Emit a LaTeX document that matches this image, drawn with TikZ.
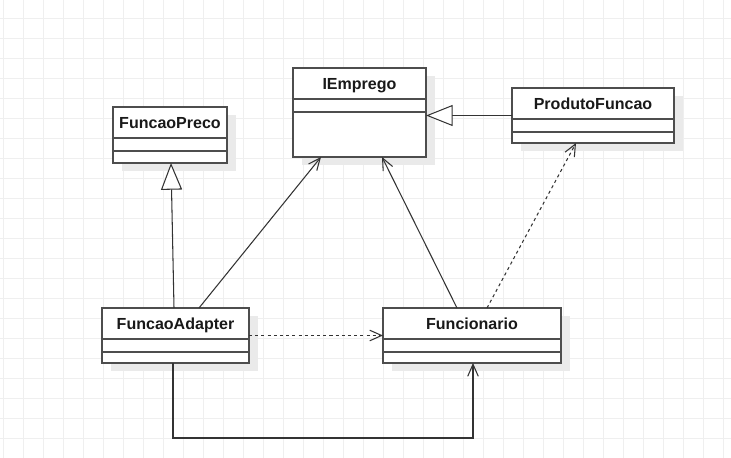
\documentclass[tikz,border=0pt]{standalone}
\usepackage{fontspec}
\setmainfont{Liberation Sans}
\usepackage{xcolor}
\usetikzlibrary{arrows.meta}
\usetikzlibrary{calc}

\definecolor{gridgray}{HTML}{EFEFEF}
\definecolor{shadowgray}{HTML}{EAEAEA}
\definecolor{boxline}{HTML}{4D4D4D}
\definecolor{linkline}{HTML}{333333}

\def\px{0.025cm}

% class box: name, x, y, width, height, title
\newcommand{\umlclass}[6]{%
  \fill[shadowgray] ({#2+9},{#3+8}) rectangle ({#2+#4+9},{#3+#5+8});
  \node[classbox, minimum width=#4*\px, minimum height=#5*\px] (#1) at (#2,#3) {};
  \draw[classsep] ($(#1.north west)+(0,31)$) -- ($(#1.north east)+(0,31)$);
  \draw[classsep] ($(#1.north west)+(0,44)$) -- ($(#1.north east)+(0,44)$);
  \node[classname] (#1-title) at ($(#1.north)+(0,21.5)$) {#6};
}

\tikzset{
  classbox/.style={draw=boxline, fill=white, line width=1pt, inner sep=0pt,
    outer sep=0pt, anchor=north west},
  classsep/.style={draw=boxline, line width=1pt},
  classname/.style={anchor=base, inner sep=0pt, text=black!90,
    font=\fontsize{11.4}{13}\selectfont\bfseries},
  link/.style={draw=linkline, line width=0.75pt},
  assoc/.style={link, -{Straight Barb[length=8.5pt,width=7.5pt]}},
  depend/.style={assoc, dash pattern=on 2.2pt off 2.2pt},
  realize/.style={link, -{Triangle[length=19pt,width=15pt,fill=white]}}
}

\begin{document}
\begin{tikzpicture}[x=0.025cm, y=-0.025cm]
  \useasboundingbox (0,0) rectangle (731,458);
  \fill[white] (0,0) rectangle (731,458);
  % grid
  \foreach \gx in {3,23,...,723}
    \draw[gridgray, line width=0.7pt] (\gx,0) -- (\gx,458);
  \foreach \gy in {18,38,...,458}
    \draw[gridgray, line width=0.7pt] (0,\gy) -- (731,\gy);

  % classes
  \umlclass{iemp}{293}{68}{133}{89}{IEmprego}
  \umlclass{prod}{512}{88}{162}{55}{ProdutoFuncao}
  \umlclass{fpreco}{113}{107}{114}{56}{FuncaoPreco}
  \umlclass{fadp}{102}{308}{147}{55}{FuncaoAdapter}
  \umlclass{func}{383}{308}{178}{55}{Funcionario}

  % connectors
  \draw[realize] (prod.west) -- (prod.west -| iemp.east);
  \draw[realize] ($(fadp.north west)+(72,0)$) -- ($(fpreco.south west)+(58,0)$);
  \draw[assoc] ($(fadp.north west)+(97,0)$) -- ($(iemp.south west)+(28,0)$);
  \draw[assoc] ($(func.north west)+(74,0)$) -- ($(iemp.south west)+(89,0)$);
  \draw[depend] ($(func.north west)+(104,0)$) -- ($(prod.south west)+(64,0)$);
  \draw[depend] (fadp.east) -- (func.west);
  \draw[assoc] ($(fadp.south west)+(71,0)$) -- ++(0,75) -| ($(func.south west)+(90,0)$);
\end{tikzpicture}
\end{document}
